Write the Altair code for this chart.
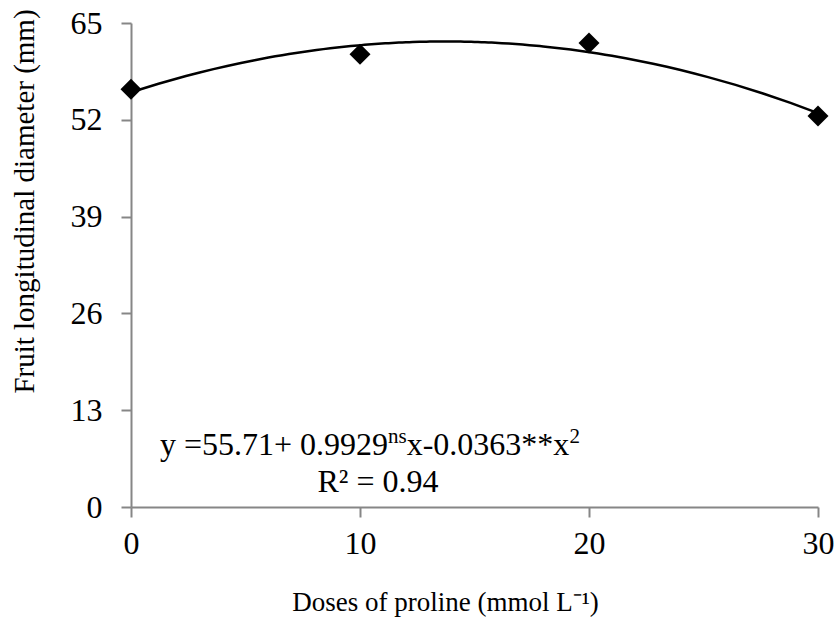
import altair as alt
import pandas as pd

doses = [0, 10, 20, 30]
diameter = [56.1, 60.8, 62.3, 52.5]
y_ticks = [0, 13, 26, 39, 52, 65]
x_ticks = [0, 10, 20, 30]
eq_parts = ["y =55.71+ 0.9929", "ns", "x-0.0363**x", "2"]
eq_line2 = "R² = 0.94"

df = pd.DataFrame({"dose": doses, "diam": diameter})
FONT = "Liberation Serif"
AXC = "#868686"

x_enc = alt.X(
    "dose:Q",
    scale=alt.Scale(domain=[0, 30], nice=False, zero=False),
    axis=alt.Axis(
        values=x_ticks, title="Doses of proline (mmol L⁻¹)", grid=False,
        domainColor=AXC, domainWidth=2, tickColor=AXC, tickWidth=2, tickSize=10,
        labelFont=FONT, labelFontSize=32, labelColor="black", labelPadding=11,
        titleFont=FONT, titleFontSize=27, titleFontWeight="normal", titleColor="black",
        titleX=314, titleY=103, titleBaseline="alphabetic", titleAlign="center",
        labelFlush=False,
    ),
)
y_enc = alt.Y(
    "diam:Q",
    scale=alt.Scale(domain=[0, 65], nice=False, zero=True),
    axis=alt.Axis(
        values=y_ticks, title="Fruit longitudinal diameter  (mm)", grid=False,
        domainColor=AXC, domainWidth=2, tickColor=AXC, tickWidth=2, tickSize=10,
        labelFont=FONT, labelFontSize=32, labelColor="black", labelPadding=19,
        titleFont=FONT, titleFontSize=29, titleFontWeight="normal", titleColor="black",
        titleAngle=-90, titleX=-98, titleY=178, titleBaseline="alphabetic", titleAlign="center",
        labelFlush=False,
    ),
)

base = alt.Chart(df)

curve = base.transform_regression(
    "dose", "diam", method="poly", order=2, extent=[0, 30]
).mark_line(color="black", strokeWidth=2.5).encode(x=x_enc, y=y_enc)

pts = base.mark_point(
    shape="diamond", filled=True, size=440, color="black", opacity=1
).encode(x=x_enc, y=y_enc)

# equation pieces: main text 32px, superscripts 21px raised
eq_df = pd.DataFrame({
    "t": eq_parts,
    "px": [29, 257, 275.7, 438.4],
    "py": [432, 420, 432, 420],
    "fs": [32, 21, 32, 21],
})

def piece(i):
    r = eq_df.iloc[[i]]
    return alt.Chart(r).mark_text(
        font=FONT, fontSize=float(r["fs"].iloc[0]), align="left",
        baseline="alphabetic", color="black"
    ).encode(x=alt.value(float(r["px"].iloc[0])), y=alt.value(float(r["py"].iloc[0])), text="t:N")

txt2 = alt.Chart(pd.DataFrame({"t": [eq_line2]})).mark_text(
    font=FONT, fontSize=32, align="center", baseline="alphabetic", color="black"
).encode(x=alt.value(247), y=alt.value(469), text="t:N")

chart = alt.layer(curve, pts, piece(0), piece(1), piece(2), piece(3), txt2).properties(
    width=687, height=484,
    autosize=alt.AutoSizeParams(type="none"),
    padding={"left": 131, "top": 23, "right": 20, "bottom": 115},
    background="white",
).configure_view(stroke=None)

chart.save("out.html", embed_options={"renderer": "svg", "actions": False})
